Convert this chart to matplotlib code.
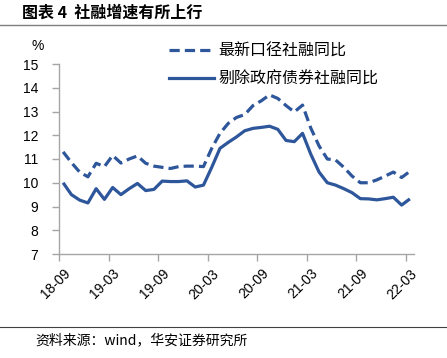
import numpy as np
import matplotlib
matplotlib.use("Agg")
import matplotlib.pyplot as plt
from matplotlib.lines import Line2D

plt.rcParams['font.family'] = ['Liberation Sans', 'Noto Sans CJK SC', 'DejaVu Sans']

# monthly categories 2018-09 .. 2022-03
months = []
y, m = 2018, 9
while (y, m) <= (2022, 3):
    months.append(f"{y % 100:02d}-{m:02d}")
    m += 1
    if m > 12:
        m = 1
        y += 1

new_caliber = [11.3, 10.85, 10.45, 10.25, 10.82, 10.68, 11.15, 10.83, 11.0, 11.13,
               10.82, 10.7, 10.65, 10.6, 10.68, 10.7, 10.7, 10.68, 11.45, 12.08,
               12.5, 12.75, 12.87, 13.25, 13.45, 13.7, 13.55, 13.25, 12.98, 13.27,
               12.3, 11.55, 11.0, 10.96, 10.65, 10.28, 10.0, 10.0, 10.12, 10.28,
               10.45, 10.22, 10.48]
ex_gov_bond = [10.0, 9.5, 9.27, 9.15, 9.75, 9.3, 9.8, 9.5, 9.75, 9.97,
               9.67, 9.72, 10.07, 10.05, 10.05, 10.08, 9.82, 9.9, 10.65, 11.45,
               11.7, 11.93, 12.19, 12.29, 12.33, 12.38, 12.25, 11.78, 11.73, 12.08,
               11.2, 10.45, 10.0, 9.9, 9.75, 9.58, 9.33, 9.32, 9.28, 9.33,
               9.39, 9.06, 9.32]

labels = ["最新口径社融同比", "剔除政府债券社融同比"]
yticks = [7, 8, 9, 10, 11, 12, 13, 14, 15]

color = '#2E569A'
axis_col = '#A6A6A6'

W, H = 447, 358
fig = plt.figure(figsize=(W / 100, H / 100), dpi=100)
ax = fig.add_axes([59 / W, 1 - 254 / H, (414 - 59) / W, (254 - 64) / H])

n = len(months)
pos = np.arange(n) + 0.5
ax.plot(pos, new_caliber, color=color, lw=2.3, ls=(0, (3.2, 1.6)), dash_capstyle='butt', solid_capstyle='butt')
ax.plot(pos, ex_gov_bond, color=color, lw=2.3, solid_capstyle='butt', solid_joinstyle='round')

ax.set_xlim(0, n)
ax.set_ylim(7, 15)
ax.set_yticks(yticks)
ax.set_yticklabels([str(v) for v in yticks], fontsize=10)
ax.tick_params(axis='y', length=5, width=1, color=axis_col, pad=10, direction='out')

ax.set_xticks(pos[::6])
ax.set_xticklabels(months[::6], rotation=45, ha='right', va='top', rotation_mode='anchor', fontsize=10)
ax.tick_params(axis='x', which='major', length=0, pad=9)
ax.set_xticks(np.arange(0, n, 6), minor=True)
ax.tick_params(axis='x', which='minor', length=5, width=1, color=axis_col, direction='out')

for s in ['top', 'right']:
    ax.spines[s].set_visible(False)
for s in ['left', 'bottom']:
    ax.spines[s].set_color(axis_col)
    ax.spines[s].set_linewidth(1)

handles = [Line2D([], [], color=color, lw=2.3, ls=(0, (3.2, 1.6)), dash_capstyle='butt'),
           Line2D([], [], color=color, lw=2.3)]
fig.legend(handles, labels, loc='upper left', bbox_to_anchor=(169 / W, 1 - 43 / H),
           frameon=False, prop={'family': ['Noto Sans CJK SC'], 'size': 11.5},
           handlelength=2.8, handletextpad=0.3, labelspacing=0.65, borderaxespad=0, borderpad=0)

fig.text(38 / W, 1 - 46 / H, '%', fontsize=10, ha='center', va='center')

fig.text(22 / W, 1 - 13 / H, '图表 4  社融增速有所上行', fontsize=11.5, fontweight='semibold',
         family=['Noto Sans CJK SC', 'DejaVu Sans'], ha='left', va='center')
fig.add_artist(Line2D([0, 1], [1 - 24.5 / H, 1 - 24.5 / H], color='#7F7F7F', lw=1))
fig.add_artist(Line2D([0, 1], [1 - 327 / H, 1 - 327 / H], color='#404040', lw=0.8))
fig.text(35 / W, 1 - 340 / H, '资料来源：wind，华安证券研究所', fontsize=10,
         family=['Noto Sans CJK SC', 'DejaVu Sans'], ha='left', va='center')

fig.savefig('out.png', dpi=100)
